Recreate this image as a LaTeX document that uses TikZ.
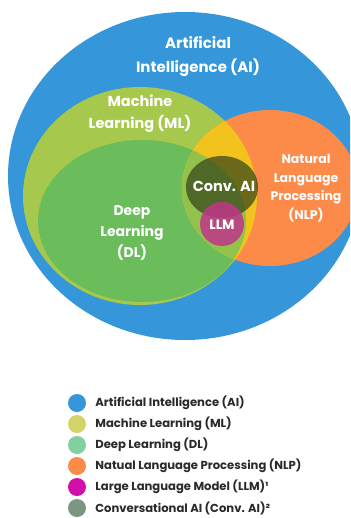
\documentclass[tikz,border=0pt]{standalone}
\usepackage{fontspec}
\setmainfont{Poppins}
\usetikzlibrary{positioning}

\definecolor{aiblue}{HTML}{3597D9}
\definecolor{mlgreen}{HTML}{A6C84C}
\definecolor{dlgreen}{HTML}{6ABD5A}
\definecolor{nlporange}{HTML}{FC8B4A}
\definecolor{mlnlp}{HTML}{F2C31C}
\definecolor{dlnlp}{HTML}{93C24C}
\definecolor{convdark}{HTML}{36461A}
\definecolor{llmpink}{HTML}{C0368A}
\definecolor{keyml}{HTML}{D4D466}
\definecolor{keydl}{HTML}{82D0A0}
\definecolor{keyllm}{HTML}{D010A8}
\definecolor{keyconv}{HTML}{7D9680}
\definecolor{keyink}{HTML}{2A2A2A}

\begin{document}
\begin{tikzpicture}[x=1pt, y=-1pt,
    setlabel/.style={text=white, align=center, inner sep=0pt},
    keydot/.style={circle, minimum size=18pt, inner sep=0pt},
    keytext/.style={right=9pt of #1, inner sep=0pt, text=keyink,
      font=\bfseries\fontsize{11.6}{13}\selectfont}]
    \clip (0,0) rectangle (350,518);
    \fill[white] (0,0) rectangle (350,518);

    % sets
    \fill[aiblue] (185,176) ellipse [x radius=177, y radius=164];
    \fill[mlgreen] (140,196) ellipse [x radius=117, y radius=109];
    \fill[dlgreen] (142,221) ellipse [x radius=104, y radius=81];
    \fill[nlporange] (270,188) ellipse [x radius=88, y radius=78];
    \begin{scope}
      \clip (270,188) ellipse [x radius=88, y radius=78];
      \fill[mlnlp] (140,196) ellipse [x radius=117, y radius=109];
      \fill[dlnlp] (142,221) ellipse [x radius=104, y radius=81];
    \end{scope}
    \fill[convdark, opacity=0.72] (222,187) ellipse [x radius=36, y radius=31];
    \fill[llmpink, opacity=0.85] (222,224) circle [radius=22];

    % set names
    \node[setlabel, font=\bfseries\fontsize{15}{24}\selectfont] (ai) at (198,57)
      {Artificial\\Intelligence (AI)};
    \node[setlabel, font=\bfseries\fontsize{14.5}{22}\selectfont] (ml) at (140,114)
      {Machine\\Learning (ML)};
    \node[setlabel, font=\bfseries\fontsize{14}{21}\selectfont] (dl) at (132,233)
      {Deep\\Learning\\(DL)};
    \node[setlabel, font=\bfseries\fontsize{12.5}{18.5}\selectfont] (nlp) at (306,188)
      {Natural\\Language\\Processing\\(NLP)};
    \node[setlabel, font=\bfseries\fontsize{14.5}{16}\selectfont] (conv) at (224,186) {Conv. AI};
    \node[setlabel, font=\bfseries\fontsize{13.5}{15}\selectfont] (llm) at (222,225) {LLM};

    % key
    \node[keydot, fill=aiblue] (kai) at (77,403) {};
    \node[keytext=kai] {Artificial Intelligence (AI)};
    \node[keydot, fill=keyml] (kml) at (77,424) {};
    \node[keytext=kml] {Machine Learning (ML)};
    \node[keydot, fill=keydl] (kdl) at (77,445) {};
    \node[keytext=kdl] {Deep Learning (DL)};
    \node[keydot, fill=nlporange] (knlp) at (77,466) {};
    \node[keytext=knlp] {Natual Language Processing (NLP)};
    \node[keydot, fill=keyllm] (kllm) at (77,487) {};
    \node[keytext=kllm] {Large Language Model (LLM)¹};
    \node[keydot, fill=keyconv] (kconv) at (77,508) {};
    \node[keytext=kconv] {Conversational AI (Conv. AI)²};
\end{tikzpicture}
\end{document}
